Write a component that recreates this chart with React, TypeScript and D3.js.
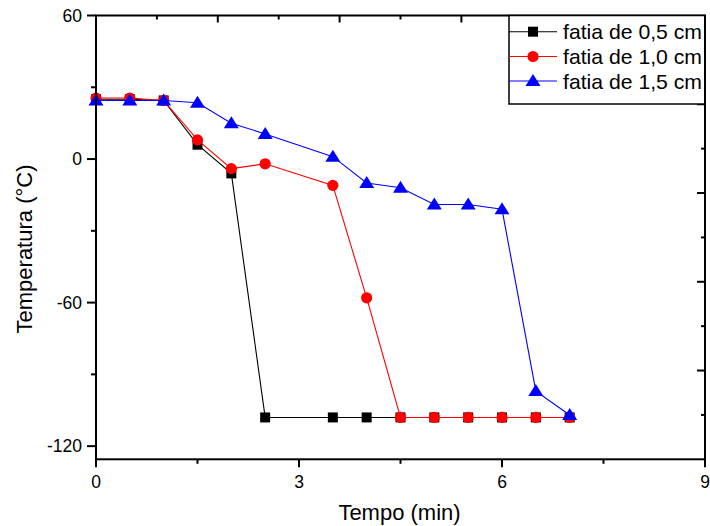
import React from "react";
import * as d3 from "d3";

const times = [0, 0.5, 1, 1.5, 2, 2.5, 3.5, 4, 4.5, 5, 5.5, 6, 6.5, 7];
const slice05 = [25, 25, 24.5, 6, -6, -108, -108, -108, -108, -108, -108, -108, -108, -108];
const slice10 = [25.5, 25.5, 24.5, 8, -4, -2, -11, -58, -108, -108, -108, -108, -108, -108];
const slice15 = [24.5, 24.5, 24.5, 23.5, 15, 10.5, 1, -10, -12, -19, -19, -21, -97, -107];
const seriesNames = ["fatia de 0,5 cm", "fatia de 1,0 cm", "fatia de 1,5 cm"];
const seriesColors = ["#000000", "#ff0000", "#0000ff"];
const seriesMarkers = ["square", "circle", "triangle"];
const xTicks = [0, 3, 6, 9];
const xMinor = [1.5, 4.5, 7.5];
const yTicks = [60, 0, -60, -120];
const yMinor = [30, -30, -90];

const W = 710, H = 526;
const L = 96, R = 705, T = 15.5, B = 459.3;
const FONT = "'Liberation Sans', Arial, sans-serif";

function Marker({ kind, x, y, color }: { kind: string; x: number; y: number; color: string }) {
  if (kind === "square") return <rect x={x - 5} y={y - 5} width={10} height={10} fill={color} />;
  if (kind === "circle") return <circle cx={x} cy={y} r={5.6} fill={color} />;
  return <path d={`M${x},${y - 7} L${x + 7.5},${y + 5} L${x - 7.5},${y + 5} Z`} fill={color} />;
}

export default function App() {
  const x = d3.scaleLinear().domain([0, 9]).range([L, R]);
  const y = d3.scaleLinear().domain([-125.5, 60]).range([B, T]);
  const allSeries = [slice05, slice10, slice15];
  const line = d3
    .line<[number, number]>()
    .x((d) => x(d[0]))
    .y((d) => y(d[1]));

  const topTicks = d3.range(11).map((k) => L + ((R - L) * k) / 10);
  const rightTicks = d3.range(11).map((k) => B - ((B - T) * k) / 10);

  const legX = 509, legY = T, legW = R - 509, legH = 104 - T;
  const rowY = [31.7, 56.5, 81];

  return (
    <div style={{ position: "absolute", left: 0, top: 0 }}>
      <svg width={W} height={H} style={{ display: "block", background: "#fff" }} fontFamily={FONT}>
        {allSeries.map((vals, i) => (
          <g key={i}>
            <path
              d={line(times.map((t, j) => [t, vals[j]] as [number, number])) || ""}
              fill="none"
              stroke={seriesColors[i]}
              strokeWidth={1.1}
            />
            {times.map((t, j) => (
              <Marker key={j} kind={seriesMarkers[i]} x={x(t)} y={y(vals[j])} color={seriesColors[i]} />
            ))}
          </g>
        ))}

        {/* frame */}
        <rect x={L} y={T} width={R - L} height={B - T} fill="none" stroke="#000" strokeWidth={2} />

        {/* bottom axis */}
        {xTicks.map((t) => (
          <g key={t}>
            <line x1={x(t)} x2={x(t)} y1={B} y2={B + 8} stroke="#000" strokeWidth={2} />
            <text x={x(t)} y={B + 29} fontSize={17.5} textAnchor="middle">{t}</text>
          </g>
        ))}
        {xMinor.map((t) => (
          <line key={t} x1={x(t)} x2={x(t)} y1={B} y2={B + 4.5} stroke="#000" strokeWidth={2} />
        ))}

        {/* left axis */}
        {yTicks.map((t) => (
          <g key={t}>
            <line x1={L - 9} x2={L} y1={y(t)} y2={y(t)} stroke="#000" strokeWidth={2} />
            <text x={L - 14} y={y(t) + 6} fontSize={17.5} textAnchor="end">{t}</text>
          </g>
        ))}
        {yMinor.map((t) => (
          <line key={t} x1={L - 5} x2={L} y1={y(t)} y2={y(t)} stroke="#000" strokeWidth={2} />
        ))}

        {/* top & right ticks (inward) */}
        {topTicks.slice(1, 10).map((px, k) => (
          <line key={k} x1={px} x2={px} y1={T} y2={T + ((k + 1) % 2 === 0 ? 7 : 4)} stroke="#000" strokeWidth={2} />
        ))}
        {rightTicks.slice(1, 10).map((py, k) => (
          <line key={k} x1={R - ((k + 1) % 2 === 0 ? 8 : 4)} x2={R} y1={py} y2={py} stroke="#000" strokeWidth={2} />
        ))}

        {/* axis titles */}
        <text x={399.5} y={520} fontSize={22} textAnchor="middle">Tempo (min)</text>
        <text
          transform={`translate(32,${249}) rotate(-90)`}
          fontSize={22}
          textAnchor="middle"
        >
          Temperatura (°C)
        </text>

        {/* legend */}
        <rect x={legX} y={legY} width={legW} height={legH} fill="#fff" stroke="#000" strokeWidth={1.5} />
        {seriesNames.map((name, i) => (
          <g key={name}>
            <line x1={legX} x2={557} y1={rowY[i]} y2={rowY[i]} stroke={seriesColors[i]} strokeWidth={1.1} />
            <Marker kind={seriesMarkers[i]} x={533} y={rowY[i]} color={seriesColors[i]} />
            <text x={563} y={rowY[i] + 7.5} fontSize={21} textLength={139} lengthAdjust="spacingAndGlyphs">{name}</text>
          </g>
        ))}
        <line x1={R} x2={R} y1={T} y2={B} stroke="#000" strokeWidth={2} />
      </svg>
    </div>
  );
}
